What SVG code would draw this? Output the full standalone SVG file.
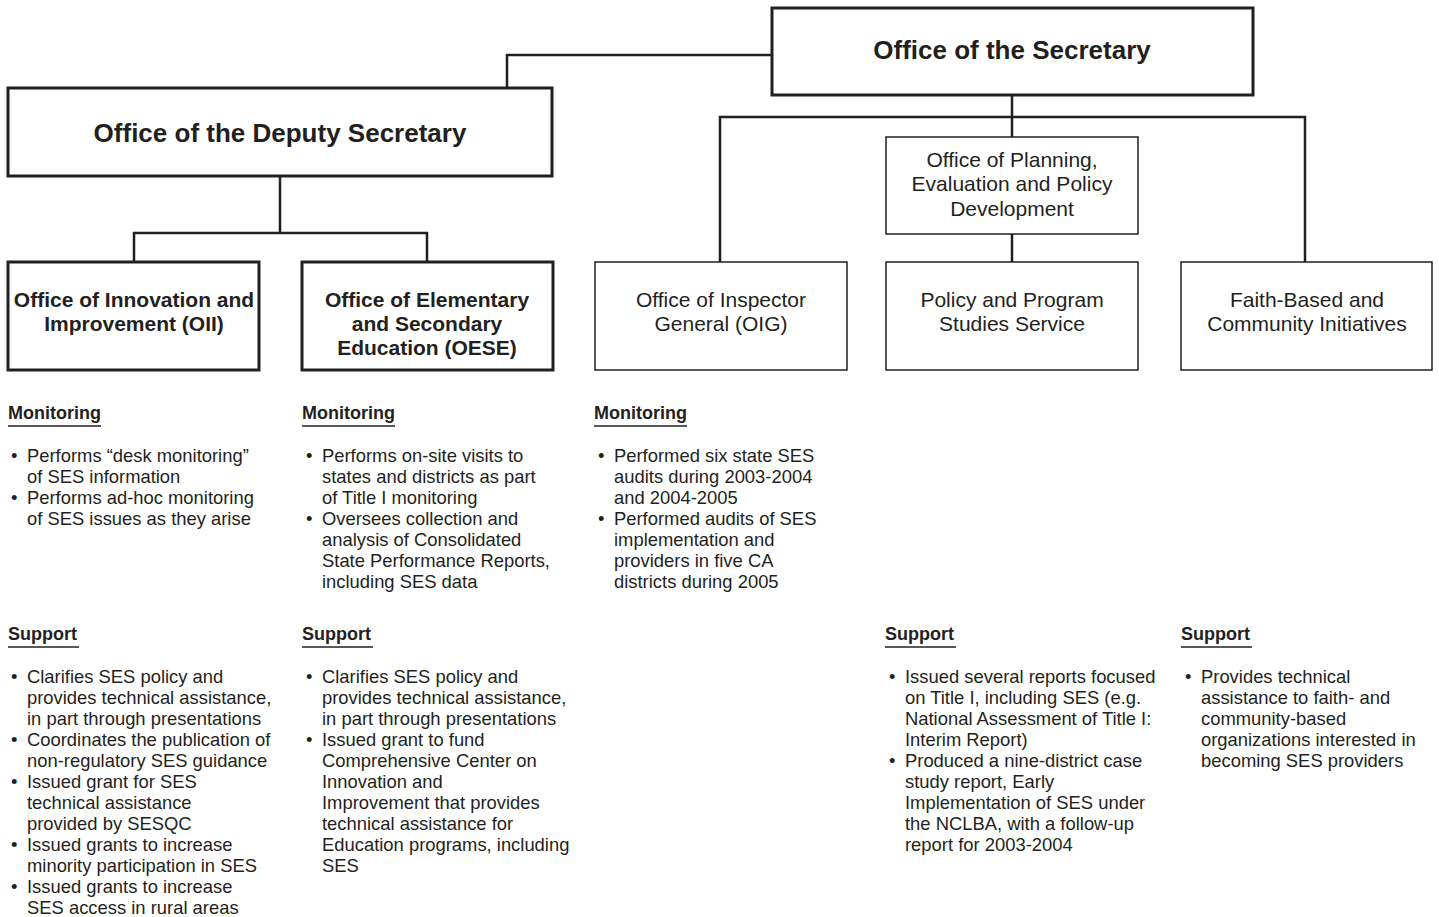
<svg xmlns="http://www.w3.org/2000/svg" width="1439" height="917" viewBox="0 0 1439 917">
<style>
  .bg{fill:#ffffff}
  .boxA{fill:#ffffff;stroke:#231f20;stroke-width:3}
  .boxB{fill:#ffffff;stroke:#231f20;stroke-width:1.5}
  .conn{fill:none;stroke:#231f20;stroke-width:2.5}
  .t{font-family:"Liberation Sans",Arial,Helvetica,sans-serif;fill:#231f20}
  .title{font-size:26px;font-weight:bold;text-anchor:middle}
  .bold{font-size:21px;font-weight:bold;text-anchor:middle}
  .reg{font-size:21px;text-anchor:middle}
  .head{font-size:18px;font-weight:bold}
  .body{font-size:18.4px}
  .ul{stroke:#231f20;stroke-width:1.5}
</style>
<rect class="bg" x="0" y="0" width="1439" height="917"/>

<g id="connectors">
  <polyline class="conn" points="772,55 507,55 507,88"/>
  <line class="conn" x1="280" y1="176" x2="280" y2="233"/>
  <polyline class="conn" points="134,262 134,233 427,233 427,262"/>
  <line class="conn" x1="1012" y1="95" x2="1012" y2="137"/>
  <polyline class="conn" points="720,262 720,117 1305,117 1305,262"/>
  <line class="conn" x1="1012" y1="234" x2="1012" y2="262"/>
</g>

<g id="secretary">
  <rect class="boxA" x="772" y="8" width="481" height="87"/>
  <text class="t title" x="1012" y="59">Office of the Secretary</text>
</g>
<g id="deputy">
  <rect class="boxA" x="8" y="88" width="544" height="88"/>
  <text class="t title" x="280" y="142">Office of the Deputy Secretary</text>
</g>
<g id="oii">
  <rect class="boxA" x="8" y="262" width="251" height="108"/>
  <text class="t bold" x="134" y="307">Office of Innovation and</text>
  <text class="t bold" x="134" y="331">Improvement (OII)</text>
</g>
<g id="oese">
  <rect class="boxA" x="302" y="262" width="251" height="108"/>
  <text class="t bold" x="427" y="307">Office of Elementary</text>
  <text class="t bold" x="427" y="331">and Secondary</text>
  <text class="t bold" x="427" y="355">Education (OESE)</text>
</g>
<g id="opepd">
  <rect class="boxB" x="886" y="137" width="252" height="97"/>
  <text class="t reg" x="1012" y="167">Office of Planning,</text>
  <text class="t reg" x="1012" y="191">Evaluation and Policy</text>
  <text class="t reg" x="1012" y="216">Development</text>
</g>
<g id="oig">
  <rect class="boxB" x="595" y="262" width="252" height="108"/>
  <text class="t reg" x="721" y="307">Office of Inspector</text>
  <text class="t reg" x="721" y="331">General (OIG)</text>
</g>
<g id="ppss">
  <rect class="boxB" x="886" y="262" width="252" height="108"/>
  <text class="t reg" x="1012" y="307">Policy and Program</text>
  <text class="t reg" x="1012" y="331">Studies Service</text>
</g>
<g id="fbci">
  <rect class="boxB" x="1181" y="262" width="251" height="108"/>
  <text class="t reg" x="1307" y="307">Faith-Based and</text>
  <text class="t reg" x="1307" y="331">Community Initiatives</text>
</g>

<g id="oii-notes">
  <text class="t head" x="8" y="419">Monitoring</text>
  <line class="ul" x1="8" y1="426" x2="101" y2="426"/>
  <text class="t body" x="11" y="462">•</text>
  <text class="t body" x="27" y="462">Performs “desk monitoring”</text>
  <text class="t body" x="27" y="483">of SES information</text>
  <text class="t body" x="11" y="504">•</text>
  <text class="t body" x="27" y="504">Performs ad-hoc monitoring</text>
  <text class="t body" x="27" y="525">of SES issues as they arise</text>

  <text class="t head" x="8" y="640">Support</text>
  <line class="ul" x1="8" y1="647" x2="79" y2="647"/>
  <text class="t body" x="11" y="683">•</text>
  <text class="t body" x="27" y="683">Clarifies SES policy and</text>
  <text class="t body" x="27" y="704">provides technical assistance,</text>
  <text class="t body" x="27" y="725">in part through presentations</text>
  <text class="t body" x="11" y="746">•</text>
  <text class="t body" x="27" y="746">Coordinates the publication of</text>
  <text class="t body" x="27" y="767">non-regulatory SES guidance</text>
  <text class="t body" x="11" y="788">•</text>
  <text class="t body" x="27" y="788">Issued grant for SES</text>
  <text class="t body" x="27" y="809">technical assistance</text>
  <text class="t body" x="27" y="830">provided by SESQC</text>
  <text class="t body" x="11" y="851">•</text>
  <text class="t body" x="27" y="851">Issued grants to increase</text>
  <text class="t body" x="27" y="872">minority participation in SES</text>
  <text class="t body" x="11" y="893">•</text>
  <text class="t body" x="27" y="893">Issued grants to increase</text>
  <text class="t body" x="27" y="914">SES access in rural areas</text>
</g>

<g id="oese-notes">
  <text class="t head" x="302" y="419">Monitoring</text>
  <line class="ul" x1="302" y1="426" x2="395" y2="426"/>
  <text class="t body" x="306" y="462">•</text>
  <text class="t body" x="322" y="462">Performs on-site visits to</text>
  <text class="t body" x="322" y="483">states and districts as part</text>
  <text class="t body" x="322" y="504">of Title I monitoring</text>
  <text class="t body" x="306" y="525">•</text>
  <text class="t body" x="322" y="525">Oversees collection and</text>
  <text class="t body" x="322" y="546">analysis of Consolidated</text>
  <text class="t body" x="322" y="567">State Performance Reports,</text>
  <text class="t body" x="322" y="588">including SES data</text>

  <text class="t head" x="302" y="640">Support</text>
  <line class="ul" x1="302" y1="647" x2="373" y2="647"/>
  <text class="t body" x="306" y="683">•</text>
  <text class="t body" x="322" y="683">Clarifies SES policy and</text>
  <text class="t body" x="322" y="704">provides technical assistance,</text>
  <text class="t body" x="322" y="725">in part through presentations</text>
  <text class="t body" x="306" y="746">•</text>
  <text class="t body" x="322" y="746">Issued grant to fund</text>
  <text class="t body" x="322" y="767">Comprehensive Center on</text>
  <text class="t body" x="322" y="788">Innovation and</text>
  <text class="t body" x="322" y="809">Improvement that provides</text>
  <text class="t body" x="322" y="830">technical assistance for</text>
  <text class="t body" x="322" y="851">Education programs, including</text>
  <text class="t body" x="322" y="872">SES</text>
</g>

<g id="oig-notes">
  <text class="t head" x="594" y="419">Monitoring</text>
  <line class="ul" x1="594" y1="426" x2="687" y2="426"/>
  <text class="t body" x="598" y="462">•</text>
  <text class="t body" x="614" y="462">Performed six state SES</text>
  <text class="t body" x="614" y="483">audits during 2003-2004</text>
  <text class="t body" x="614" y="504">and 2004-2005</text>
  <text class="t body" x="598" y="525">•</text>
  <text class="t body" x="614" y="525">Performed audits of SES</text>
  <text class="t body" x="614" y="546">implementation and</text>
  <text class="t body" x="614" y="567">providers in five CA</text>
  <text class="t body" x="614" y="588">districts during 2005</text>
</g>

<g id="ppss-notes">
  <text class="t head" x="885" y="640">Support</text>
  <line class="ul" x1="885" y1="647" x2="956" y2="647"/>
  <text class="t body" x="889" y="683">•</text>
  <text class="t body" x="905" y="683">Issued several reports focused</text>
  <text class="t body" x="905" y="704">on Title I, including SES (e.g.</text>
  <text class="t body" x="905" y="725">National Assessment of Title I:</text>
  <text class="t body" x="905" y="746">Interim Report)</text>
  <text class="t body" x="889" y="767">•</text>
  <text class="t body" x="905" y="767">Produced a nine-district case</text>
  <text class="t body" x="905" y="788">study report, Early</text>
  <text class="t body" x="905" y="809">Implementation of SES under</text>
  <text class="t body" x="905" y="830">the NCLBA, with a follow-up</text>
  <text class="t body" x="905" y="851">report for 2003-2004</text>
</g>

<g id="fbci-notes">
  <text class="t head" x="1181" y="640">Support</text>
  <line class="ul" x1="1181" y1="647" x2="1252" y2="647"/>
  <text class="t body" x="1185" y="683">•</text>
  <text class="t body" x="1201" y="683">Provides technical</text>
  <text class="t body" x="1201" y="704">assistance to faith- and</text>
  <text class="t body" x="1201" y="725">community-based</text>
  <text class="t body" x="1201" y="746">organizations interested in</text>
  <text class="t body" x="1201" y="767">becoming SES providers</text>
</g>
</svg>
